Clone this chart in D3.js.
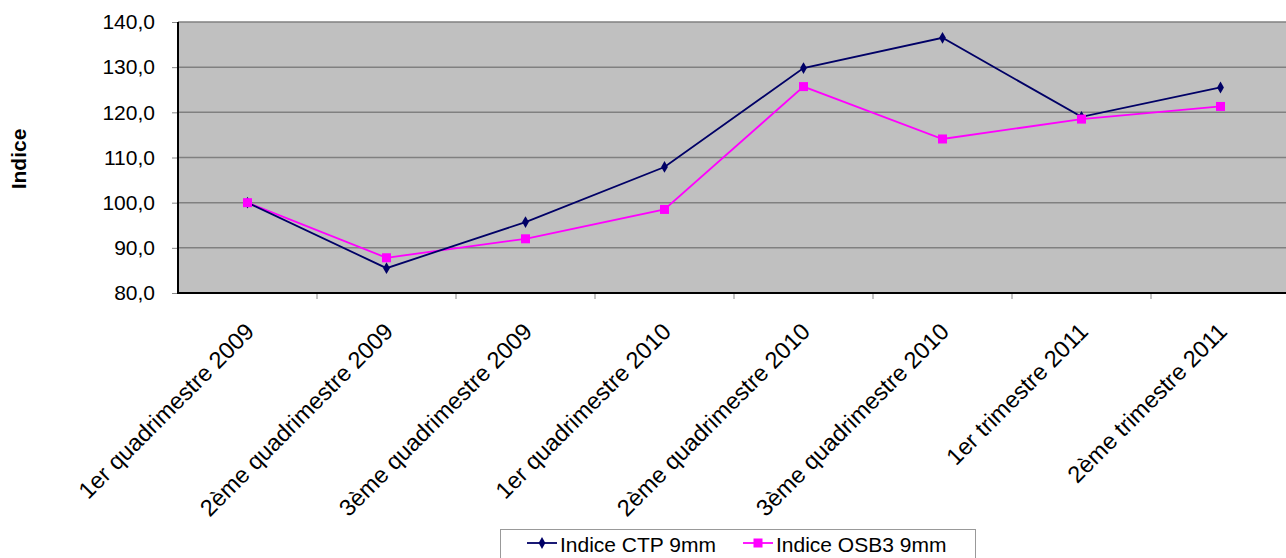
<!DOCTYPE html>
<meta charset="utf-8">
<title>Indice CTP / OSB3</title>
<style>
  body { margin: 0; background: #fff; }
  text { font-family: "Liberation Sans", Arial, sans-serif; }
</style>
<body>
<script src="https://d3js.org/d3.v7.min.js"></script>
<script>
    // data
    const categories = [
        "1er quadrimestre 2009",
        "2ème quadrimestre 2009",
        "3ème quadrimestre 2009",
        "1er quadrimestre 2010",
        "2ème quadrimestre 2010",
        "3ème quadrimestre 2010",
        "1er trimestre 2011",
        "2ème trimestre 2011"
    ];
    const ctpValues = [100.0, 85.5, 95.7, 107.9, 129.8, 136.5, 119.0, 125.5];
    const osbValues = [100.0, 87.8, 92.0, 98.5, 125.7, 114.1, 118.5, 121.3];
    const yTicks = [80, 90, 100, 110, 120, 130, 140];
    const seriesNames = ["Indice CTP 9mm", "Indice OSB3 9mm"];

    var width = 1286,
        height = 558;

    var plot = {left: 178, top: 22, right: 1290, bottom: 293};

    var svg = d3.select("body").append("svg")
        .attr("width", width)
        .attr("height", height);

    var x = d3.scaleBand()
        .domain(categories)
        .range([plot.left, plot.right]);

    var y = d3.scaleLinear()
        .domain([80, 140])
        .range([plot.bottom, plot.top]);

    var cx = d => x(d) + x.bandwidth() / 2;

    // plot background
    svg.append("rect")
        .attr("x", plot.left)
        .attr("y", plot.top)
        .attr("width", plot.right - plot.left)
        .attr("height", plot.bottom - plot.top)
        .attr("fill", "#c0c0c0");

    // grid lines
    svg.append("g")
        .selectAll("line")
        .data(yTicks.filter(d => d > 80))
        .join("line")
        .attr("x1", plot.left)
        .attr("x2", plot.right)
        .attr("y1", d => y(d))
        .attr("y2", d => y(d))
        .attr("stroke", "#808080")
        .attr("stroke-width", 1.5);

    // y axis
    var yAxis = svg.append("g")
        .attr("transform", `translate(${plot.left},0)`)
        .call(d3.axisLeft(y)
            .tickValues(yTicks)
            .tickSize(6)
            .tickPadding(17)
            .tickFormat(d => d3.format(".1f")(d).replace(".", ",")));
    yAxis.select(".domain").remove();
    yAxis.selectAll(".tick line").attr("stroke", "#888");
    yAxis.selectAll(".tick text")
        .attr("font-size", 21)
        .attr("fill", "#000")
        .style("font-family", "'Liberation Sans', Arial, sans-serif");

    svg.append("line")
        .attr("x1", plot.left).attr("x2", plot.left)
        .attr("y1", plot.top).attr("y2", plot.bottom + 1)
        .attr("stroke", "#000").attr("stroke-width", 2);

    // x axis: ticks between categories
    svg.append("g")
        .selectAll("line")
        .data(categories.slice(1))
        .join("line")
        .attr("x1", d => x(d))
        .attr("x2", d => x(d))
        .attr("y1", plot.bottom)
        .attr("y2", plot.bottom + 6)
        .attr("stroke", "#888");

    svg.append("line")
        .attr("x1", plot.left - 1).attr("x2", plot.right)
        .attr("y1", plot.bottom).attr("y2", plot.bottom)
        .attr("stroke", "#000").attr("stroke-width", 2);

    svg.append("g")
        .selectAll("text")
        .data(categories)
        .join("text")
        .attr("transform", d => `translate(${cx(d) + 8},${plot.bottom + 40}) rotate(-45)`)
        .attr("text-anchor", "end")
        .attr("font-size", 23.5)
        .text(d => d);

    // axis title
    svg.append("text")
        .attr("transform", `translate(26,159) rotate(-90)`)
        .attr("text-anchor", "middle")
        .attr("font-size", 21)
        .attr("font-weight", "bold")
        .text("Indice");

    // lines
    var line = d3.line()
        .x((d, i) => cx(categories[i]))
        .y(d => y(d));

    svg.append("path")
        .datum(osbValues)
        .attr("d", line)
        .attr("fill", "none")
        .attr("stroke", "#ff00ff")
        .attr("stroke-width", 1.8);

    svg.append("path")
        .datum(ctpValues)
        .attr("d", line)
        .attr("fill", "none")
        .attr("stroke", "#000066")
        .attr("stroke-width", 1.8);

    var diamond = d3.symbol().type(d3.symbolDiamond).size(40);

    svg.append("g")
        .selectAll("path")
        .data(ctpValues)
        .join("path")
        .attr("transform", (d, i) => `translate(${cx(categories[i])},${y(d)})`)
        .attr("d", diamond)
        .attr("fill", "#000066");

    svg.append("g")
        .selectAll("rect")
        .data(osbValues)
        .join("rect")
        .attr("x", (d, i) => cx(categories[i]) - 4.5)
        .attr("y", d => y(d) - 4.5)
        .attr("width", 9)
        .attr("height", 9)
        .attr("fill", "#ff00ff");

    // legend
    var legend = svg.append("g");
    legend.append("rect")
        .attr("x", 500.5)
        .attr("y", 529.5)
        .attr("width", 475)
        .attr("height", 40)
        .attr("fill", "#fff")
        .attr("stroke", "#999");

    var legendX = [527, 743];
    var legendColors = ["#000066", "#ff00ff"];

    seriesNames.forEach(function(name, i) {
        var lx = legendX[i];
        legend.append("line")
            .attr("x1", lx).attr("x2", lx + 30)
            .attr("y1", 543).attr("y2", 543)
            .attr("stroke", legendColors[i])
            .attr("stroke-width", 1.8);
        if (i === 0) {
            legend.append("path")
                .attr("transform", `translate(${lx + 15},543)`)
                .attr("d", diamond)
                .attr("fill", legendColors[i]);
        } else {
            legend.append("rect")
                .attr("x", lx + 10.5).attr("y", 538.5)
                .attr("width", 9).attr("height", 9)
                .attr("fill", legendColors[i]);
        }
        legend.append("text")
            .attr("x", lx + 33)
            .attr("y", 552)
            .attr("font-size", 21)
            .text(name);
    });
</script>
</body>
